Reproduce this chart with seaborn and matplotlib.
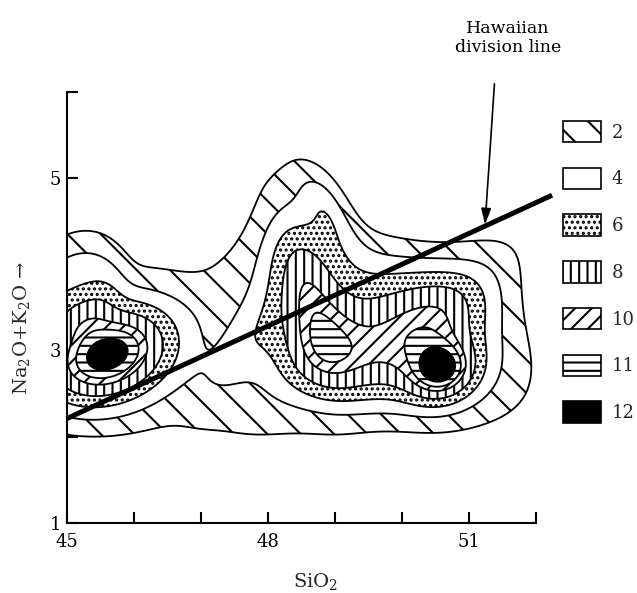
import numpy as np
import matplotlib
matplotlib.use('Agg')
import matplotlib.pyplot as plt
from matplotlib.patches import Patch
import seaborn as sns

sns.set_theme(style='ticks')
plt.rcParams['font.family'] = ['DejaVu Serif']
plt.rcParams['mathtext.fontset'] = 'dejavuserif'
plt.rcParams['hatch.color'] = 'black'
plt.rcParams['hatch.linewidth'] = 1.5

# ---- data: contour levels, legend, and density components ----
levels = [2, 4, 6, 8, 10, 11, 12]
legend_labels = ['2', '4', '6', '8', '10', '11', '12']
hatches = ['\\', '', '...', '||', '//', '--', '']

comp_amp = [0.57, 3.31, 12.23, 4.39, 3.95, 4.35, 6.75, 3.48, 1.99, 4.84]
comp_x = [47.656, 45.131, 45.603, 49.699, 48.867, 49.081, 50.627, 50.653, 47.567, 48.534]
comp_y = [3.059, 3.800, 2.953, 3.281, 4.690, 2.984, 2.736, 3.437, 2.978, 3.870]
comp_sx = [9.200, 0.633, 0.840, 1.977, 0.220, 0.450, 0.379, 0.975, 0.559, 0.831]
comp_sy = [1.835, 0.479, 0.469, 0.881, 0.416, 1.307, 0.256, 0.381, 0.236, 0.361]
comp_rot = [-0.527, 0.410, 0.203, -0.226, 0.686, -1.194, 0.211, 0.607, 0.781, -1.238]
comp_pow = [8, 4, 2, 4, 2, 2, 2, 2, 2, 2]

line_x = [45.0, 52.24]          # Hawaiian division line
line_y = [2.21, 4.80]
x_ticks = [45, 46, 47, 48, 49, 50, 51, 52]
x_ticklabels = ['45', '', '', '48', '', '', '51', '']
y_ticks = [1, 2, 3, 4, 5, 6]
y_ticklabels = ['1', '', '3', '', '5', '']

# ---- density surface ----
gx, gy = np.meshgrid(np.linspace(44.0, 52.5, 700), np.linspace(1.0, 6.0, 500))
Z = np.zeros_like(gx)
for A, cx, cy, sx, sy, th, p in zip(comp_amp, comp_x, comp_y, comp_sx, comp_sy, comp_rot, comp_pow):
    dx, dy = gx - cx, gy - cy
    u = (np.cos(th) * dx + np.sin(th) * dy) / sx
    v = (-np.sin(th) * dx + np.cos(th) * dy) / sy
    Z += A * np.exp(-0.5 * (u * u + v * v) ** (p / 2))

W, H = 637.0, 593.0
def fy(py): return 1 - py / H

fig = plt.figure(figsize=(W / 100, H / 100), dpi=100)
ax = fig.add_axes([66.7 / W, fy(523), (536 - 66.7) / W, (523 - 91.7) / H])

cf = ax.contourf(gx, gy, Z, levels=levels + [1000], colors=['white'] * 6 + ['black'], hatches=hatches)
if hasattr(cf, 'set_hatchcolor'):
    cf.set_hatchcolor('black')
else:
    cf.set_edgecolor('black'); cf.set_linewidth(0)
ax.contour(gx, gy, Z, levels=levels, colors='black', linewidths=1.3)

ax.set_xlim(45, 52)
ax.set_ylim(1, 6)
ax.plot(line_x, line_y, color='black', lw=3.6, clip_on=False, solid_capstyle='butt')
ax.annotate('', xy=(51.24, 4.46), xytext=(51.38, 6.09), annotation_clip=False,
            arrowprops=dict(arrowstyle='-|>,head_length=0.8,head_width=0.25', lw=1.2,
                            color='black', shrinkA=0, shrinkB=0))
fig.text(508 / W, fy(38), 'Hawaiian\ndivision line', ha='center', va='center',
         fontsize=12.5, linespacing=1.2, color='black')

ax.set_xticks(x_ticks); ax.set_xticklabels(x_ticklabels)
ax.set_yticks(y_ticks); ax.set_yticklabels(y_ticklabels)
ax.tick_params(direction='in', length=8, width=1.5, labelsize=13, colors='black')
ax.tick_params(axis='x', pad=7)
ax.tick_params(axis='y', pad=4)
for sp in ['top', 'right']:
    ax.spines[sp].set_visible(False)
for sp in ['left', 'bottom']:
    ax.spines[sp].set_linewidth(1.5)
    ax.spines[sp].set_color('black')

fig.text(316 / W, fy(582), 'SiO$_2$', ha='center', va='center', fontsize=14)
fig.text(22 / W, fy(328), 'Na$_2$O+K$_2$O →', rotation=90, ha='center', va='center', fontsize=14)

handles = [Patch(facecolor=('black' if l == '12' else 'white'), edgecolor='black', hatch=h,
                 linewidth=1.2, label=l) for l, h in zip(legend_labels, hatches)]
ax.legend(handles=handles, loc='upper left', bbox_to_anchor=(563 / W, fy(121)),
          bbox_transform=fig.transFigure, frameon=False, fontsize=13, handlelength=2.1,
          handleheight=1.45, labelspacing=1.4, handletextpad=0.6, borderpad=0, borderaxespad=0)

fig.savefig('out.png', dpi=100, facecolor='white')
